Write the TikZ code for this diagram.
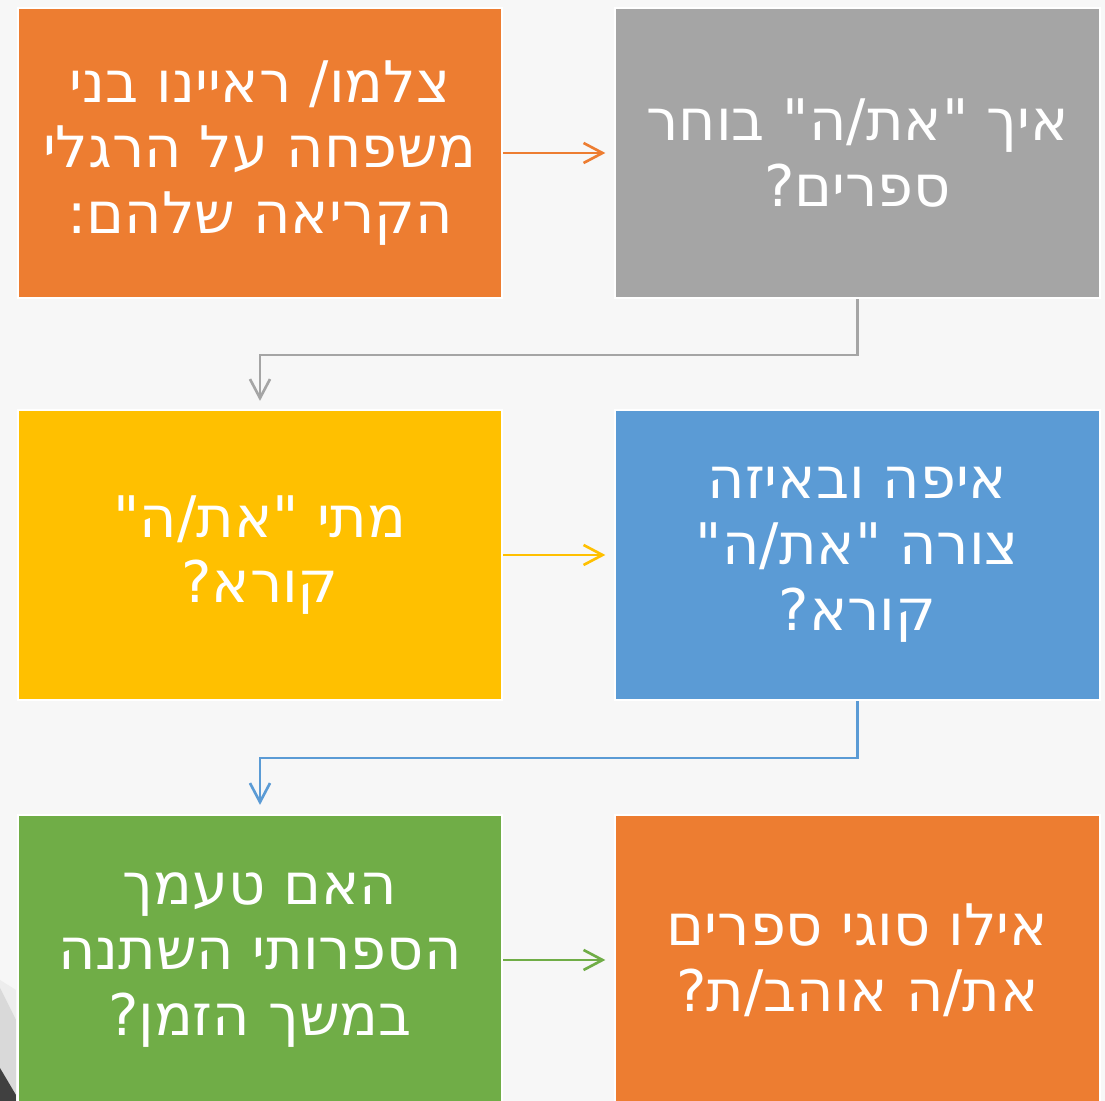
\documentclass[tikz,border=0pt]{standalone}
\usepackage{fontspec}
\newfontfamily\hebfont[Script=Hebrew]{DejaVu Sans}
\TeXXeTstate=1
\usetikzlibrary{arrows.meta}

\definecolor{bgpage}{HTML}{F7F7F7}
\definecolor{accorange}{HTML}{ED7D31}
\definecolor{accgray}{HTML}{A5A5A5}
\definecolor{accyellow}{HTML}{FFC000}
\definecolor{accblue}{HTML}{5B9BD5}
\definecolor{accgreen}{HTML}{70AD47}
\definecolor{decolight}{HTML}{D9D9D9}
\definecolor{decopale}{HTML}{EDEDED}
\definecolor{decodark}{HTML}{404040}

\tikzset{
	qbox/.style={draw=white, line width=0.57pt, minimum width=4.84cm, minimum height=2.9cm,
		inner sep=0pt, text=white, align=center, font=\hebfont\fontsize{16.3}{18.7}\selectfont},
	link/.style={draw=#1, line width=0.75pt, -{Straight Barb[length=5.4pt, width=5.7pt]}},
}

\begin{document}
\begin{tikzpicture}[x=0.01cm,y=-0.01cm]
		\useasboundingbox (0,0) rectangle (1105,1101);
		\fill[bgpage] (0,0) rectangle (1105,1101);
		\begin{scope}
		\clip (0,0) rectangle (1105,1101);
		% slide corner
		\fill[decopale] (0,980) -- (16,990) -- (16,1101) -- (0,1101) -- cycle;
		\fill[decolight] (0,988) -- (16,1020) -- (16,1101) -- (0,1101) -- cycle;
		\fill[decodark] (0,1068) -- (16,1095) -- (16,1101) -- (0,1101) -- cycle;
		% boxes
		\node[qbox, fill=accorange] (film) at (260,153) {\beginR צלמו/ ראיינו בני\endR\\\beginR משפחה על הרגלי\endR\\\beginR הקריאה שלהם:\endR};
		\node[qbox, fill=accgray] (choose) at (857.5,153) {\beginR איך "את/ה" בוחר\endR\\\beginR ספרים?\endR};
		\node[qbox, fill=accyellow] (when) at (260,555) {\beginR מתי "את/ה"\endR\\\beginR קורא?\endR};
		\node[qbox, fill=accblue] (where) at (857.5,555) {\beginR איפה ובאיזה\endR\\\beginR צורה "את/ה"\endR\\\beginR קורא?\endR};
		\node[qbox, fill=accgreen] (taste) at (260,960) {\beginR האם טעמך\endR\\\beginR הספרותי השתנה\endR\\\beginR במשך הזמן?\endR};
		\node[qbox, fill=accorange] (kinds) at (857.5,960) {\beginR אילו סוגי ספרים\endR\\\beginR את/ה אוהב/ת?\endR};
		% connectors
		\draw[link=accorange] (film.east) -- ([xshift=-0.09cm]choose.west);
		\draw[link=accyellow] (when.east) -- ([xshift=-0.09cm]where.west);
		\draw[link=accgreen] (taste.east) -- ([xshift=-0.09cm]kinds.west);
		\draw[link=accgray] (choose.south) -- ++(0,56) -| ([yshift=0.08cm]when.north);
		\draw[link=accblue] (where.south) -- ++(0,57) -| ([yshift=0.09cm]taste.north);
		\end{scope}
	\end{tikzpicture}
\end{document}
